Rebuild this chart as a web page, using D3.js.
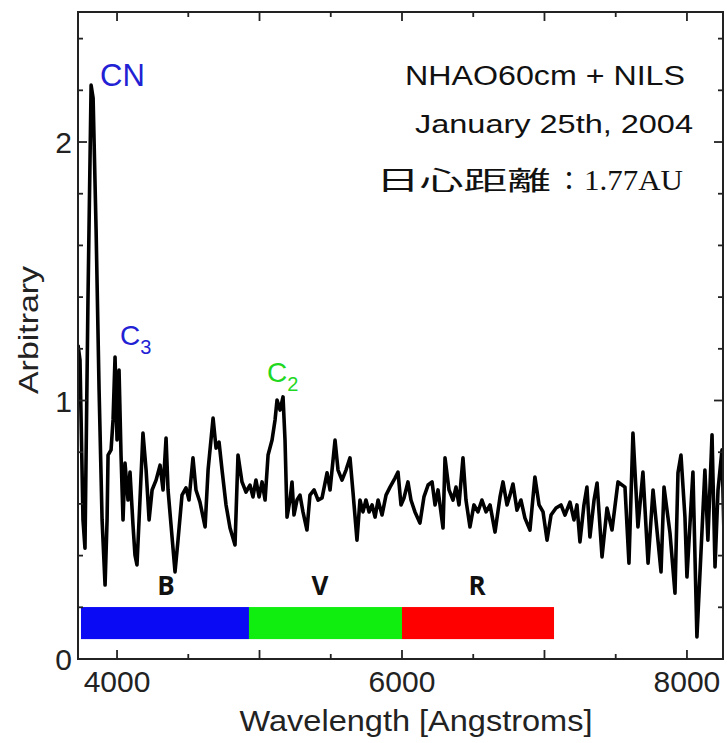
<!DOCTYPE html>
<html><head><meta charset="utf-8">
<script src="https://cdn.jsdelivr.net/npm/d3@7"></script>
<style>html,body{margin:0;padding:0;background:#fff;}svg{display:block;}</style>
</head><body>
<script>
const wavelength = [3726,3740,3761,3775,3796,3818,3832,3853,3874,3895,
3916,3930,3937,3958,3972,3986,4000,4014,4028,4042,
4056,4077,4091,4112,4126,4140,4161,4182,4204,4225,
4246,4274,4302,4323,4344,4358,4379,4407,4428,4456,
4484,4505,4533,4554,4582,4618,4639,4674,4695,4716,
4737,4765,4793,4828,4849,4877,4905,4933,4954,4975,
4997,5018,5039,5060,5088,5109,5123,5144,5165,5179,
5193,5214,5228,5242,5263,5284,5305,5333,5354,5383,
5411,5439,5474,5495,5530,5551,5579,5607,5635,5656,
5684,5705,5726,5747,5769,5790,5811,5832,5860,5888,
5916,5951,5972,5993,6014,6042,6063,6091,6126,6154,
6183,6211,6232,6253,6288,6302,6330,6358,6379,6400,
6428,6449,6477,6505,6533,6561,6590,6618,6653,6688,
6709,6737,6758,6779,6807,6835,6863,6898,6933,6962,
6990,7018,7046,7081,7116,7144,7179,7207,7228,7249,
7277,7298,7319,7348,7369,7404,7439,7474,7516,7565,
7593,7621,7656,7691,7727,7762,7818,7839,7881,7916,
7937,7958,7986,8000,8042,8070,8126,8147,8176,8197,
8218,8246,8274];
const flux = [1.215,1.157,0.538,0.429,1.389,2.220,2.170,1.660,1.041,0.538,
0.286,0.538,0.789,0.809,0.925,1.168,0.847,1.118,0.789,0.538,
0.758,0.615,0.723,0.518,0.402,0.364,0.615,0.874,0.731,0.538,
0.654,0.692,0.750,0.654,0.855,0.654,0.518,0.337,0.460,0.634,
0.662,0.615,0.778,0.654,0.607,0.511,0.731,0.932,0.816,0.839,
0.731,0.596,0.507,0.441,0.789,0.685,0.646,0.673,0.627,0.692,
0.627,0.685,0.615,0.789,0.847,0.925,1.002,0.963,1.014,0.847,
0.549,0.615,0.685,0.557,0.615,0.634,0.569,0.499,0.634,0.654,
0.615,0.623,0.720,0.654,0.847,0.731,0.692,0.731,0.778,0.646,
0.460,0.615,0.569,0.615,0.569,0.596,0.549,0.615,0.557,0.634,
0.665,0.700,0.723,0.596,0.623,0.685,0.615,0.569,0.526,0.627,
0.673,0.685,0.596,0.654,0.507,0.778,0.654,0.615,0.665,0.596,
0.778,0.615,0.511,0.596,0.569,0.615,0.569,0.596,0.491,0.627,
0.685,0.596,0.634,0.677,0.576,0.615,0.545,0.499,0.704,0.596,
0.569,0.460,0.557,0.584,0.596,0.557,0.607,0.538,0.596,0.453,
0.596,0.665,0.472,0.615,0.681,0.395,0.584,0.499,0.685,0.665,
0.371,0.874,0.511,0.723,0.371,0.654,0.337,0.665,0.487,0.255,
0.720,0.789,0.549,0.317,0.723,0.085,0.731,0.460,0.867,0.356,
0.654,0.809,0.151];

const bandNames = ["B","V","R"];
const bandStart = [3747,4926,6000];
const bandEnd   = [4926,6000,7067];
const bandColors = ["#0a0af5","#10ee10","#ff0000"];
const bandBottom = 0.077, bandTop = 0.201;

const xMajorTicks = [4000,6000,8000];
const xMinorTicks = [4000,4500,5000,5500,6000,6500,7000,7500,8000];
const xBigTicks = [4000,5000,6000,7000,8000];
const yMajorTicks = [0,1,2];
const yMinorTicks = [0,0.2,0.4,0.6,0.8,1,1.2,1.4,1.6,1.8,2,2.2,2.4];

const W = 727, H = 743;
const L = 78, R = 723, T = 12, B = 659;

const svg = d3.select("body").append("svg").attr("width", W).attr("height", H);
const x = d3.scaleLinear().domain([3726, 8253]).range([L, R]);
const y = d3.scaleLinear().domain([0, 2.503]).range([B, T]);

svg.append("defs").append("clipPath").attr("id","clip")
  .append("rect").attr("x", L).attr("y", T).attr("width", R-L).attr("height", B-T);

// color bars
const bands = bandNames.map((n,i)=>({n, s:bandStart[i], e:bandEnd[i], c:bandColors[i]}));
svg.selectAll("rect.band").data(bands).enter().append("rect")
  .attr("x", d=>x(d.s)).attr("width", d=>x(d.e)-x(d.s))
  .attr("y", y(bandTop)).attr("height", y(bandBottom)-y(bandTop))
  .attr("fill", d=>d.c);
svg.selectAll("text.band").data(bands).enter().append("text")
  .attr("x", (d,i)=>[166,320,477][i]).attr("y", 595)
  .attr("text-anchor","middle")
  .style("font-family","'Open Sans', sans-serif").style("font-weight","700")
  .style("font-size","26px").attr("fill","#111").text(d=>d.n);

// spectrum
const pts = wavelength.map((w,i)=>[w, flux[i]]);
svg.append("path").datum(pts)
  .attr("clip-path","url(#clip)")
  .attr("d", d3.line().x(d=>x(d[0])).y(d=>y(d[1])))
  .attr("fill","none").attr("stroke","#000").attr("stroke-width",3.6)
  .attr("stroke-linejoin","round");

// frame
svg.append("rect").attr("x",L).attr("y",T).attr("width",R-L).attr("height",B-T)
  .attr("fill","none").attr("stroke","#222").attr("stroke-width",2);

// ticks
const tg = svg.append("g").attr("stroke","#222").attr("stroke-width",1.8);
xMinorTicks.forEach(v=>{
  const len = xBigTicks.includes(v) ? 9 : 5;
  tg.append("line").attr("x1",x(v)).attr("x2",x(v)).attr("y1",B).attr("y2",B-len);
  tg.append("line").attr("x1",x(v)).attr("x2",x(v)).attr("y1",T).attr("y2",T+len);
});
yMinorTicks.forEach(v=>{
  const len = yMajorTicks.includes(v) ? 9 : 5;
  tg.append("line").attr("y1",y(v)).attr("y2",y(v)).attr("x1",L).attr("x2",L+len);
  tg.append("line").attr("y1",y(v)).attr("y2",y(v)).attr("x1",R).attr("x2",R-len);
});

const font = "'Liberation Sans', Arial, sans-serif";
svg.selectAll("text.xt").data(xMajorTicks).enter().append("text")
  .attr("x", d=>x(d)).attr("y", 692).attr("text-anchor","middle")
  .style("font-family",font).style("font-size","30px").attr("fill","#222").text(d=>d);
svg.selectAll("text.yt").data(yMajorTicks).enter().append("text")
  .attr("x", 72).attr("y", d=>y(d)+11).attr("text-anchor","end")
  .style("font-family",font).style("font-size","30px").attr("fill","#222").text(d=>d);

// axis titles
svg.append("text").attr("x",416).attr("y",731).attr("text-anchor","middle")
  .attr("textLength",353).attr("lengthAdjust","spacingAndGlyphs")
  .style("font-family",font).style("font-size","29px").attr("fill","#222")
  .text("Wavelength [Angstroms]");
svg.append("text").attr("transform","translate(38,330) rotate(-90)")
  .attr("text-anchor","middle")
  .attr("textLength",128).attr("lengthAdjust","spacingAndGlyphs")
  .style("font-family",font).style("font-size","28px").attr("fill","#222")
  .text("Arbitrary");

// annotations
svg.append("text").attr("x",405).attr("y",85)
  .attr("textLength",280).attr("lengthAdjust","spacingAndGlyphs")
  .style("font-family",font).style("font-size","27px").attr("fill","#111")
  .text("NHAO60cm + NILS");
svg.append("text").attr("x",415).attr("y",133)
  .attr("textLength",278).attr("lengthAdjust","spacingAndGlyphs")
  .style("font-family",font).style("font-size","26px").attr("fill","#111")
  .text("January 25th, 2004");
const jp = svg.append("text").attr("y",190).attr("fill","#111");
jp.append("tspan").attr("x",376).attr("textLength",175).attr("lengthAdjust","spacingAndGlyphs")
  .style("font-family","'Noto Sans CJK JP', sans-serif").style("font-weight","400").style("font-size","26px")
  .text("日心距離");
jp.append("tspan").attr("x",556)
  .style("font-family","'Noto Sans CJK JP', sans-serif").style("font-size","26px")
  .text("：");
jp.append("tspan").attr("x",584).attr("textLength",99).attr("lengthAdjust","spacingAndGlyphs")
  .style("font-family","'Liberation Serif', serif").style("font-size","29px")
  .text("1.77AU");

// molecule labels
svg.append("text").attr("x",100).attr("y",86)
  .style("font-family",font).style("font-size","31px").attr("fill","#2222d4").text("CN");
const c3 = svg.append("text").attr("x",120).attr("y",345)
  .style("font-family",font).style("font-size","28px").attr("fill","#2222d4");
c3.append("tspan").text("C");
c3.append("tspan").attr("dy",9).style("font-size","20px").text("3");
const c2 = svg.append("text").attr("x",267).attr("y",382)
  .style("font-family",font).style("font-size","28px").attr("fill","#1fd81f");
c2.append("tspan").text("C");
c2.append("tspan").attr("dy",9).style("font-size","20px").text("2");
</script>
</body></html>
